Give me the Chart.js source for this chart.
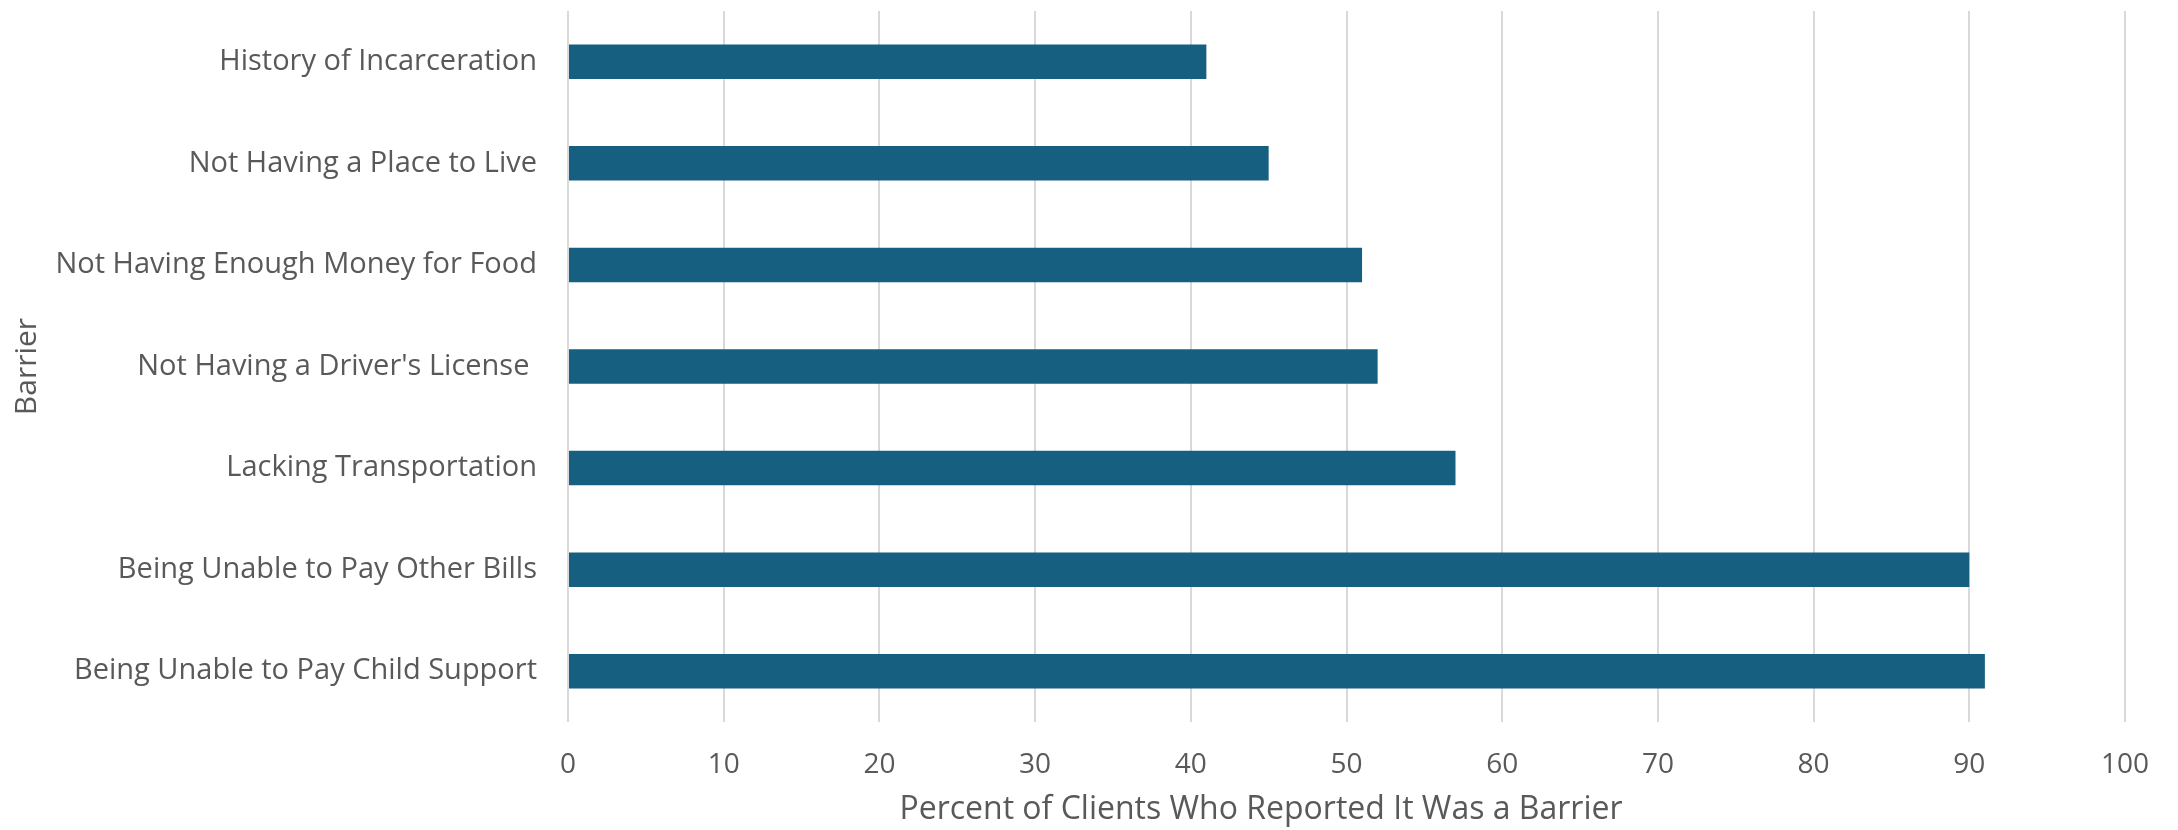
<!DOCTYPE html>
<html lang="en">

<head>
    <meta charset="UTF-8">
    <title>Barriers</title>
    <style>
        html, body { margin: 0; padding: 0; background: #fff; }
        #barrierChart { display: block; }
    </style>
</head>

<body>
    <canvas id="barrierChart" width="2178" height="830"></canvas>
</body>
<script src="https://cdn.jsdelivr.net/npm/chart.js"></script>
<script>
    const barriers = [
        "History of Incarceration",
        "Not Having a Place to Live",
        "Not Having Enough Money for Food",
        "Not Having a Driver's License ",
        "Lacking Transportation",
        "Being Unable to Pay Other Bills",
        "Being Unable to Pay Child Support"
    ];
    const percents = [41, 45, 51, 52, 57, 90, 91];
    const xTicks = [0, 10, 20, 30, 40, 50, 60, 70, 80, 90, 100];
    const xTitle = 'Percent of Clients Who Reported It Was a Barrier';

    const textColor = '#595959';
    const fontFamily = '"Open Sans", "Liberation Sans", sans-serif';

    // excel puts the x title a bit left of the plot centre, so draw it by hand
    const xTitlePlugin = {
        id: 'xTitle',
        afterDraw(chart) {
            const c = chart.ctx;
            c.save();
            c.font = '32px ' + fontFamily;
            c.fillStyle = textColor;
            c.textAlign = 'center';
            c.textBaseline = 'middle';
            c.fillText(xTitle, 1261, 810);
            c.restore();
        }
    };

    const ctx = document.getElementById('barrierChart').getContext('2d');
    new Chart(ctx, {
        type: 'bar',
        data: {
            labels: barriers,
            datasets: [{
                label: 'Percent',
                data: percents,
                backgroundColor: '#175F80',
                borderWidth: 0,
                barPercentage: 0.34,
                categoryPercentage: 1
            }]
        },
        options: {
            indexAxis: 'y',
            responsive: false,
            animation: false,
            layout: { padding: { top: 11, right: 53, left: 0, bottom: 0 } },
            plugins: {
                legend: { display: false },
                tooltip: { enabled: false }
            },
            scales: {
                x: {
                    min: 0,
                    max: 100,
                    afterBuildTicks: (scale) => { scale.ticks = xTicks.map(v => ({ value: v })); },
                    afterFit: (scale) => { scale.height = 108; },
                    grid: { color: '#D9D9D9', lineWidth: 2, drawTicks: false },
                    border: { display: false },
                    ticks: {
                        color: textColor,
                        padding: 26,
                        font: { family: fontFamily, size: 28 }
                    },
                    title: { display: false }
                },
                y: {
                    afterFit: (scale) => {
                        scale.width = 568;
                        scale.paddingTop = 0;
                        scale.paddingBottom = 0;
                    },
                    grid: { display: false, drawTicks: false },
                    border: { display: false },
                    ticks: {
                        color: textColor,
                        padding: 31,
                        font: { family: fontFamily, size: 29 }
                    },
                    title: {
                        display: true,
                        text: 'Barrier',
                        color: textColor,
                        padding: { top: 9, bottom: 0 },
                        font: { family: fontFamily, size: 30 }
                    }
                }
            }
        },
        plugins: [xTitlePlugin]
    });
</script>

</html>
